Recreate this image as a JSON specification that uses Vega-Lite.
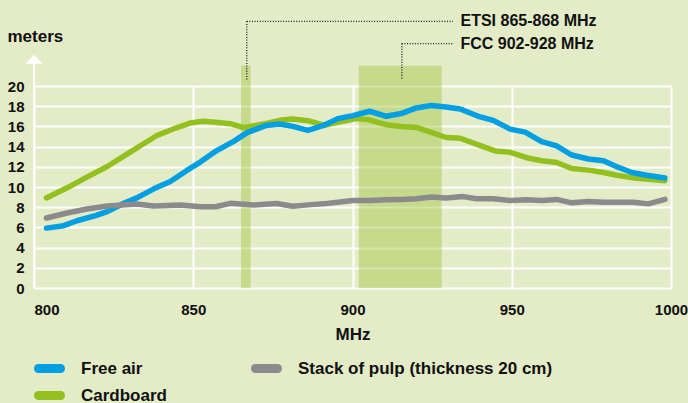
{
  "$schema": "https://vega.github.io/schema/vega-lite/v6.json",
  "width": 637,
  "height": 202,
  "autosize": "none",
  "padding": {"left": 34, "top": 86, "right": 17, "bottom": 115},
  "background": "#e3ebc7",
  "config": {
    "view": {"stroke": null},
    "font": "Liberation Sans"
  },
  "resolve": {"axis": {"x": "independent", "y": "independent"}},
  "datasets": {
    "bands": [
      {"band": "ETSI 865-868 MHz", "start": 865, "end": 868, "leader": 866.8, "leaderTop": 26.4},
      {"band": "FCC 902-928 MHz", "start": 902, "end": 928, "leader": 915.5, "leaderTop": 24.2}
    ],
    "curves": [
      {"series": "Cardboard", "mhz": 803.9, "meters": 8.92},
      {"series": "Cardboard", "mhz": 810.4, "meters": 9.92},
      {"series": "Cardboard", "mhz": 816.6, "meters": 10.98},
      {"series": "Cardboard", "mhz": 823.0, "meters": 12.03},
      {"series": "Cardboard", "mhz": 830.2, "meters": 13.46},
      {"series": "Cardboard", "mhz": 834.4, "meters": 14.28},
      {"series": "Cardboard", "mhz": 838.6, "meters": 15.1},
      {"series": "Cardboard", "mhz": 843.9, "meters": 15.77},
      {"series": "Cardboard", "mhz": 849.0, "meters": 16.33},
      {"series": "Cardboard", "mhz": 852.7, "meters": 16.5},
      {"series": "Cardboard", "mhz": 857.0, "meters": 16.4},
      {"series": "Cardboard", "mhz": 861.6, "meters": 16.27},
      {"series": "Cardboard", "mhz": 865.8, "meters": 15.87},
      {"series": "Cardboard", "mhz": 871.9, "meters": 16.23},
      {"series": "Cardboard", "mhz": 877.1, "meters": 16.6},
      {"series": "Cardboard", "mhz": 881.3, "meters": 16.73},
      {"series": "Cardboard", "mhz": 886.0, "meters": 16.57},
      {"series": "Cardboard", "mhz": 891.2, "meters": 16.1},
      {"series": "Cardboard", "mhz": 895.4, "meters": 16.4},
      {"series": "Cardboard", "mhz": 901.2, "meters": 16.77},
      {"series": "Cardboard", "mhz": 904.9, "meters": 16.67},
      {"series": "Cardboard", "mhz": 910.6, "meters": 16.17},
      {"series": "Cardboard", "mhz": 915.3, "meters": 16.0},
      {"series": "Cardboard", "mhz": 920.0, "meters": 15.9},
      {"series": "Cardboard", "mhz": 924.7, "meters": 15.4},
      {"series": "Cardboard", "mhz": 929.4, "meters": 14.9},
      {"series": "Cardboard", "mhz": 933.8, "meters": 14.83},
      {"series": "Cardboard", "mhz": 939.5, "meters": 14.17},
      {"series": "Cardboard", "mhz": 944.8, "meters": 13.57},
      {"series": "Cardboard", "mhz": 949.5, "meters": 13.43},
      {"series": "Cardboard", "mhz": 954.7, "meters": 12.9},
      {"series": "Cardboard", "mhz": 959.4, "meters": 12.6},
      {"series": "Cardboard", "mhz": 964.1, "meters": 12.43},
      {"series": "Cardboard", "mhz": 968.8, "meters": 11.83},
      {"series": "Cardboard", "mhz": 974.1, "meters": 11.67},
      {"series": "Cardboard", "mhz": 978.8, "meters": 11.43},
      {"series": "Cardboard", "mhz": 983.0, "meters": 11.17},
      {"series": "Cardboard", "mhz": 988.2, "meters": 10.9},
      {"series": "Cardboard", "mhz": 992.9, "meters": 10.77},
      {"series": "Cardboard", "mhz": 998.1, "meters": 10.63},
      {"series": "Free air", "mhz": 803.9, "meters": 5.93},
      {"series": "Free air", "mhz": 809.3, "meters": 6.17},
      {"series": "Free air", "mhz": 813.5, "meters": 6.66},
      {"series": "Free air", "mhz": 819.3, "meters": 7.16},
      {"series": "Free air", "mhz": 823.0, "meters": 7.56},
      {"series": "Free air", "mhz": 828.2, "meters": 8.39},
      {"series": "Free air", "mhz": 832.3, "meters": 8.92},
      {"series": "Free air", "mhz": 837.6, "meters": 9.82},
      {"series": "Free air", "mhz": 842.8, "meters": 10.55},
      {"series": "Free air", "mhz": 848.0, "meters": 11.64},
      {"series": "Free air", "mhz": 852.2, "meters": 12.47},
      {"series": "Free air", "mhz": 857.5, "meters": 13.63},
      {"series": "Free air", "mhz": 862.7, "meters": 14.52},
      {"series": "Free air", "mhz": 866.9, "meters": 15.38},
      {"series": "Free air", "mhz": 872.9, "meters": 16.1},
      {"series": "Free air", "mhz": 877.1, "meters": 16.23},
      {"series": "Free air", "mhz": 881.3, "meters": 16.0},
      {"series": "Free air", "mhz": 886.0, "meters": 15.6},
      {"series": "Free air", "mhz": 890.7, "meters": 16.07},
      {"series": "Free air", "mhz": 895.4, "meters": 16.77},
      {"series": "Free air", "mhz": 900.1, "meters": 17.07},
      {"series": "Free air", "mhz": 905.4, "meters": 17.5},
      {"series": "Free air", "mhz": 910.6, "meters": 17.0},
      {"series": "Free air", "mhz": 915.3, "meters": 17.27},
      {"series": "Free air", "mhz": 920.0, "meters": 17.83},
      {"series": "Free air", "mhz": 924.7, "meters": 18.07},
      {"series": "Free air", "mhz": 929.4, "meters": 17.93},
      {"series": "Free air", "mhz": 933.8, "meters": 17.73},
      {"series": "Free air", "mhz": 939.5, "meters": 17.0},
      {"series": "Free air", "mhz": 944.2, "meters": 16.6},
      {"series": "Free air", "mhz": 949.5, "meters": 15.73},
      {"series": "Free air", "mhz": 954.2, "meters": 15.43},
      {"series": "Free air", "mhz": 959.4, "meters": 14.5},
      {"series": "Free air", "mhz": 964.1, "meters": 14.07},
      {"series": "Free air", "mhz": 968.8, "meters": 13.17},
      {"series": "Free air", "mhz": 974.1, "meters": 12.77},
      {"series": "Free air", "mhz": 978.8, "meters": 12.6},
      {"series": "Free air", "mhz": 983.0, "meters": 12.0},
      {"series": "Free air", "mhz": 987.7, "meters": 11.43},
      {"series": "Free air", "mhz": 992.4, "meters": 11.17},
      {"series": "Free air", "mhz": 998.1, "meters": 10.9},
      {"series": "Stack of pulp (thickness 20 cm)", "mhz": 803.9, "meters": 6.93},
      {"series": "Stack of pulp (thickness 20 cm)", "mhz": 810.4, "meters": 7.43},
      {"series": "Stack of pulp (thickness 20 cm)", "mhz": 816.6, "meters": 7.82},
      {"series": "Stack of pulp (thickness 20 cm)", "mhz": 823.0, "meters": 8.12},
      {"series": "Stack of pulp (thickness 20 cm)", "mhz": 832.3, "meters": 8.32},
      {"series": "Stack of pulp (thickness 20 cm)", "mhz": 837.6, "meters": 8.12},
      {"series": "Stack of pulp (thickness 20 cm)", "mhz": 846.0, "meters": 8.22},
      {"series": "Stack of pulp (thickness 20 cm)", "mhz": 852.2, "meters": 8.05},
      {"series": "Stack of pulp (thickness 20 cm)", "mhz": 857.0, "meters": 8.05},
      {"series": "Stack of pulp (thickness 20 cm)", "mhz": 861.6, "meters": 8.38},
      {"series": "Stack of pulp (thickness 20 cm)", "mhz": 869.0, "meters": 8.22},
      {"series": "Stack of pulp (thickness 20 cm)", "mhz": 876.1, "meters": 8.37},
      {"series": "Stack of pulp (thickness 20 cm)", "mhz": 881.3, "meters": 8.1},
      {"series": "Stack of pulp (thickness 20 cm)", "mhz": 886.0, "meters": 8.23},
      {"series": "Stack of pulp (thickness 20 cm)", "mhz": 890.7, "meters": 8.33},
      {"series": "Stack of pulp (thickness 20 cm)", "mhz": 895.4, "meters": 8.5},
      {"series": "Stack of pulp (thickness 20 cm)", "mhz": 900.1, "meters": 8.67},
      {"series": "Stack of pulp (thickness 20 cm)", "mhz": 905.4, "meters": 8.67},
      {"series": "Stack of pulp (thickness 20 cm)", "mhz": 910.6, "meters": 8.73},
      {"series": "Stack of pulp (thickness 20 cm)", "mhz": 915.3, "meters": 8.77},
      {"series": "Stack of pulp (thickness 20 cm)", "mhz": 920.0, "meters": 8.83},
      {"series": "Stack of pulp (thickness 20 cm)", "mhz": 924.7, "meters": 9.0},
      {"series": "Stack of pulp (thickness 20 cm)", "mhz": 929.4, "meters": 8.9},
      {"series": "Stack of pulp (thickness 20 cm)", "mhz": 934.7, "meters": 9.05},
      {"series": "Stack of pulp (thickness 20 cm)", "mhz": 939.0, "meters": 8.83},
      {"series": "Stack of pulp (thickness 20 cm)", "mhz": 944.2, "meters": 8.83},
      {"series": "Stack of pulp (thickness 20 cm)", "mhz": 949.5, "meters": 8.67},
      {"series": "Stack of pulp (thickness 20 cm)", "mhz": 954.7, "meters": 8.73},
      {"series": "Stack of pulp (thickness 20 cm)", "mhz": 959.4, "meters": 8.67},
      {"series": "Stack of pulp (thickness 20 cm)", "mhz": 964.1, "meters": 8.77},
      {"series": "Stack of pulp (thickness 20 cm)", "mhz": 968.8, "meters": 8.43},
      {"series": "Stack of pulp (thickness 20 cm)", "mhz": 974.1, "meters": 8.57},
      {"series": "Stack of pulp (thickness 20 cm)", "mhz": 978.8, "meters": 8.5},
      {"series": "Stack of pulp (thickness 20 cm)", "mhz": 983.0, "meters": 8.5},
      {"series": "Stack of pulp (thickness 20 cm)", "mhz": 988.2, "meters": 8.5},
      {"series": "Stack of pulp (thickness 20 cm)", "mhz": 992.9, "meters": 8.33},
      {"series": "Stack of pulp (thickness 20 cm)", "mhz": 998.1, "meters": 8.77}
    ]
  },
  "layer": [
    {
      "data": {"name": "bands"},
      "mark": {"type": "rect", "color": "#a8cc50", "opacity": 0.5},
      "encoding": {
        "x": {"field": "start", "type": "quantitative", "scale": {"domain": [800, 1000], "nice": false, "zero": false}, "axis": null},
        "x2": {"field": "end"},
        "y": {"datum": 0, "type": "quantitative", "scale": {"domain": [0, 20], "nice": false}, "axis": null},
        "y2": {"datum": 22}
      }
    },
    {
      "data": {"name": "curves"},
      "mark": {"type": "line", "strokeWidth": 5.5, "strokeCap": "round", "strokeJoin": "round"},
      "encoding": {
        "x": {
          "field": "mhz", "type": "quantitative",
          "scale": {"domain": [800, 1000], "nice": false, "zero": false},
          "axis": {
            "values": [800, 850, 900, 950, 1000], "format": "d",
            "grid": true, "gridColor": "#ffffff", "gridWidth": 2, "gridOpacity": 1,
            "domain": false, "ticks": false, "tickSize": 0,
            "labelFlush": false, "labelOverlap": false,
            "labelAlign": {"condition": {"test": "datum.value == 800", "value": "left"}, "value": "center"},
            "labelPadding": 14, "labelFont": "Liberation Sans", "labelFontSize": 15, "labelFontWeight": "bold", "labelColor": "#111111",
            "title": "MHz", "titleFont": "Liberation Sans", "titleFontSize": 17, "titleFontWeight": "bold", "titleColor": "#111111",
            "titleBaseline": "alphabetic", "titleY": 51
          }
        },
        "y": {
          "field": "meters", "type": "quantitative",
          "scale": {"domain": [0, 20], "nice": false},
          "axis": {
            "values": [0, 2, 4, 6, 8, 10, 12, 14, 16, 18, 20],
            "grid": true, "gridColor": "#ffffff", "gridWidth": 2, "gridOpacity": 1,
            "domain": false, "ticks": false, "tickSize": 0,
            "labelOverlap": false, "labelPadding": 10,
            "labelFont": "Liberation Sans", "labelFontSize": 15, "labelFontWeight": "bold", "labelColor": "#111111",
            "title": "meters", "titleAngle": 0, "titleAlign": "left", "titleBaseline": "alphabetic",
            "titleX": -27, "titleY": -45,
            "titleFont": "Liberation Sans", "titleFontSize": 17, "titleFontWeight": "bold", "titleColor": "#111111"
          }
        },
        "color": {
          "field": "series", "type": "nominal",
          "scale": {
            "domain": ["Free air", "Cardboard", "Stack of pulp (thickness 20 cm)"],
            "range": ["#009fe3", "#93c01f", "#8b8b8e"]
          },
          "legend": {
            "orient": "none", "legendX": 0, "legendY": 269, "columns": 2,
            "title": null, "padding": 0,
            "symbolType": "stroke", "symbolSize": 484, "symbolStrokeWidth": 9,
            "clipHeight": 27,
            "labelFont": "Liberation Sans", "labelFontSize": 17, "labelFontWeight": "bold", "labelColor": "#111111",
            "labelLimit": 400,
            "labelOffset": 16, "columnPadding": 84, "rowPadding": 0,
            "encode": {"symbols": {"update": {"strokeCap": {"value": "round"}}}}
          }
        }
      }
    },
    {
      "data": {"name": "bands"},
      "mark": {"type": "rule", "color": "#1a1a1a", "strokeWidth": 1.3, "strokeDash": [1, 1.6]},
      "encoding": {
        "x": {"field": "leader", "type": "quantitative", "axis": null},
        "y": {"field": "leaderTop", "type": "quantitative", "axis": null},
        "y2": {"datum": 20.6}
      }
    },
    {
      "data": {"name": "bands"},
      "mark": {"type": "rule", "color": "#1a1a1a", "strokeWidth": 1.3, "strokeDash": [1, 1.6]},
      "encoding": {
        "x": {"field": "leader", "type": "quantitative", "axis": null},
        "x2": {"datum": 931.5},
        "y": {"field": "leaderTop", "type": "quantitative", "axis": null}
      }
    },
    {
      "data": {"name": "bands"},
      "mark": {"type": "text", "align": "left", "baseline": "middle", "font": "Liberation Sans", "fontSize": 16, "fontWeight": "bold", "color": "#111111"},
      "encoding": {
        "x": {"datum": 933.9, "type": "quantitative", "axis": null},
        "y": {"field": "leaderTop", "type": "quantitative", "axis": null},
        "text": {"field": "band"}
      }
    },
    {
      "data": {"values": [{"x": 800, "y": 0, "y2": 22.3}]},
      "mark": {"type": "rule", "color": "#ffffff", "strokeWidth": 2},
      "encoding": {
        "x": {"field": "x", "type": "quantitative", "axis": null},
        "y": {"field": "y", "type": "quantitative", "axis": null},
        "y2": {"field": "y2"}
      }
    },
    {
      "data": {"values": [{"x": 800, "y": 22.66}]},
      "mark": {"type": "point", "shape": "M-1,0.53L0,-0.53L1,0.53Z", "filled": true, "color": "#ffffff", "opacity": 1, "size": 289},
      "encoding": {
        "x": {"field": "x", "type": "quantitative", "axis": null},
        "y": {"field": "y", "type": "quantitative", "axis": null}
      }
    }
  ]
}
